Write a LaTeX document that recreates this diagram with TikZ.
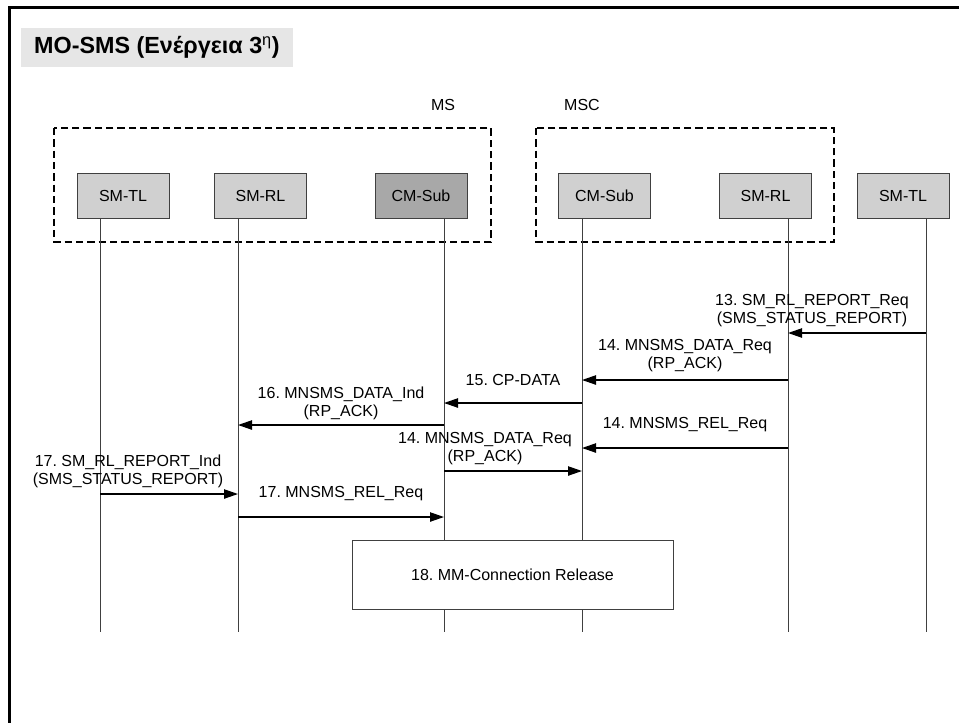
\documentclass[tikz,border=0pt]{standalone}
\usepackage{fontspec}
\setmainfont{Liberation Sans}
\usepackage{tikz}
\usetikzlibrary{arrows.meta}
\frenchspacing
\definecolor{boxfill}{HTML}{D0D0D0}
\definecolor{subfill}{HTML}{A8A8A8}
\definecolor{titlebg}{HTML}{E6E6E6}
\definecolor{edge}{HTML}{404040}

\tikzset{
  entity/.style={draw=edge, line width=0.75pt, fill=boxfill, minimum width=69pt, minimum height=33.75pt, inner sep=0pt, font=\fontsize{12}{14}\selectfont},
  lifeline/.style={draw=edge, line width=0.75pt},
  msg/.style={line width=1pt, -{Triangle[length=10.5pt,width=7pt]}},
  msglabel/.style={align=center, inner sep=0pt, font=\fontsize{12}{13.5}\selectfont},
  group/.style={dash pattern=on 5.5pt off 3pt, line width=1.5pt}
}

\begin{document}
\begin{tikzpicture}[x=0.75pt, y=-0.75pt]
    \useasboundingbox (0,0) rectangle (959,722);
    \draw[line width=2.25pt] (9,7.5) rectangle (990,750);
    \node[fill=titlebg, minimum width=204pt, minimum height=29.25pt, inner sep=0pt, font=\bfseries\fontsize{17.5}{19}\selectfont] (title) at (157,47.5) {MO-SMS (Ενέργεια 3\textsuperscript{\mdseries η})};

    % groups
    \draw[group] (54,128) rectangle (491,242);
    \draw[group] (536,128) rectangle (834,242);
    \node[font=\fontsize{12}{14}\selectfont] (ms) at (443,105) {MS};
    \node[font=\fontsize{12}{14}\selectfont] (msc) at (582,105) {MSC};

    % lifelines
    \foreach \n/\x in {1/100,2/238,3/444,4/582,5/788,6/926} {
      \coordinate (t\n) at (\x,218);
      \coordinate (b\n) at (\x,632);
      \draw[lifeline] (t\n) -- (b\n);
    }

    \node[entity] (mstl) at (123,195.5) {SM-TL};
    \node[entity] (msrl) at (260.5,195.5) {SM-RL};
    \node[entity, fill=subfill] (mscm) at (421,195.5) {CM-Sub};
    \node[entity] (msccm) at (604.5,195.5) {CM-Sub};
    \node[entity] (mscrl) at (765.5,195.5) {SM-RL};
    \node[entity] (msctl) at (903,195.5) {SM-TL};

    % messages
    \draw[msg] (t6 |- 0,333) -- (t5 |- 0,333);
    \node[msglabel] (m13) at (812,311) {13. SM\_RL\_REPORT\_Req\\(SMS\_STATUS\_REPORT)};
    \draw[msg] (t5 |- 0,380) -- (t4 |- 0,380);
    \node[msglabel] (m14a) at (685,356) {14. MNSMS\_DATA\_Req\\(RP\_ACK)};
    \draw[msg] (t4 |- 0,403) -- (t3 |- 0,403);
    \node[msglabel] (m15) at (513,380) {15. CP-DATA};
    \draw[msg] (t3 |- 0,425) -- (t2 |- 0,425);
    \node[msglabel] (m16) at (341,403) {16. MNSMS\_DATA\_Ind\\(RP\_ACK)};
    \draw[msg] (t5 |- 0,448) -- (t4 |- 0,448);
    \node[msglabel] (m14b) at (685,425) {14. MNSMS\_REL\_Req};
    \draw[msg] (t3 |- 0,471) -- (t4 |- 0,471);
    \node[msglabel] (m14c) at (485,448.5) {14. MNSMS\_DATA\_Req\\(RP\_ACK)};
    \draw[msg] (t1 |- 0,494) -- (t2 |- 0,494);
    \node[msglabel] (m17a) at (128,471) {17. SM\_RL\_REPORT\_Ind\\(SMS\_STATUS\_REPORT)};
    \draw[msg] (t2 |- 0,517) -- (t3 |- 0,517);
    \node[msglabel] (m17b) at (341,494) {17. MNSMS\_REL\_Req};

    \node[draw=edge, line width=0.75pt, fill=white, minimum width=240.75pt, minimum height=51.75pt, font=\fontsize{12}{14}\selectfont] (rel) at (512.5,574.5) {18. MM-Connection Release};
  \end{tikzpicture}
\end{document}
